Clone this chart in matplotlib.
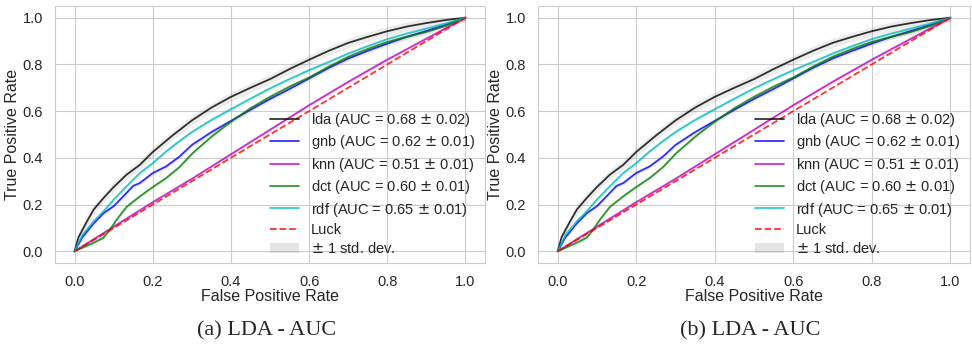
import numpy as np
import matplotlib.pyplot as plt
import seaborn as sns

sns.set_style("whitegrid")
plt.rcParams['font.family'] = ['Liberation Sans', 'DejaVu Sans']

# ROC curves (mean false positive rate -> mean true positive rate)
fpr_lda = [0.0, 0.01, 0.032, 0.049, 0.074, 0.10, 0.133, 0.167, 0.2, 0.25, 0.3, 0.35, 0.4, 0.45, 0.5, 0.55, 0.6, 0.65, 0.7, 0.75, 0.8, 0.85, 0.9, 0.95, 1.0]
tpr_lda = [0.0, 0.06, 0.129, 0.179, 0.228, 0.275, 0.328, 0.37, 0.425, 0.495, 0.56, 0.615, 0.661, 0.70, 0.737, 0.78, 0.82, 0.858, 0.892, 0.918, 0.942, 0.962, 0.977, 0.99, 1.0]

fpr_gnb = [0.0, 0.02, 0.049, 0.074, 0.10, 0.133, 0.15, 0.167, 0.2, 0.234, 0.268, 0.3, 0.35, 0.4, 0.45, 0.5, 0.55, 0.6, 0.65, 0.7, 0.75, 0.8, 0.85, 0.9, 0.95, 1.0]
tpr_gnb = [0.0, 0.06, 0.12, 0.163, 0.193, 0.25, 0.28, 0.292, 0.335, 0.363, 0.405, 0.455, 0.51, 0.558, 0.606, 0.652, 0.695, 0.74, 0.785, 0.825, 0.858, 0.889, 0.918, 0.943, 0.97, 1.0]

fpr_knn = [0.0, 0.1, 0.2, 0.3, 0.4, 0.5, 0.6, 0.7, 0.8, 0.9, 1.0]
tpr_knn = [0.0, 0.105, 0.21, 0.31, 0.415, 0.52, 0.625, 0.725, 0.82, 0.91, 1.0]

fpr_dct = [0.0, 0.049, 0.074, 0.091, 0.108, 0.133, 0.167, 0.2, 0.234, 0.268, 0.302, 0.35, 0.4, 0.45, 0.5, 0.55, 0.6, 0.65, 0.7, 0.75, 0.8, 0.85, 0.9, 0.95, 1.0]
tpr_dct = [0.0, 0.037, 0.058, 0.094, 0.136, 0.19, 0.235, 0.275, 0.313, 0.36, 0.42, 0.49, 0.555, 0.612, 0.661, 0.705, 0.744, 0.79, 0.832, 0.866, 0.896, 0.918, 0.939, 0.965, 1.0]

fpr_rdf = [0.0, 0.02, 0.049, 0.074, 0.10, 0.133, 0.167, 0.2, 0.234, 0.267, 0.3, 0.35, 0.4, 0.45, 0.5, 0.55, 0.6, 0.65, 0.7, 0.75, 0.8, 0.85, 0.9, 0.95, 1.0]
tpr_rdf = [0.0, 0.07, 0.129, 0.171, 0.221, 0.278, 0.335, 0.377, 0.427, 0.47, 0.51, 0.562, 0.608, 0.653, 0.697, 0.737, 0.775, 0.81, 0.846, 0.878, 0.908, 0.932, 0.953, 0.975, 1.0]

models = ["lda", "gnb", "knn", "dct", "rdf"]
auc_mean = [0.68, 0.62, 0.51, 0.60, 0.65]
auc_std = [0.02, 0.01, 0.01, 0.01, 0.01]
colors = ["k", "b", "m", "g", "c"]
fprs = [fpr_lda, fpr_gnb, fpr_knn, fpr_dct, fpr_rdf]
tprs = [tpr_lda, tpr_gnb, tpr_knn, tpr_dct, tpr_rdf]

captions = ["(a) LDA - AUC", "(b) LDA - AUC"]

fig = plt.figure(figsize=(9.72, 3.46), dpi=100)
ax1 = fig.add_axes([0.0566, 0.2399, 0.4424, 0.7428])
ax2 = fig.add_axes([0.5535, 0.2399, 0.4444, 0.7428])

for ax, cap in zip([ax1, ax2], captions):
    lines = []
    for name, m, s, c, fx, ty in zip(models, auc_mean, auc_std, colors, fprs, tprs):
        fx = np.array(fx)
        ty = np.array(ty)
        ax.fill_between(fx, np.clip(ty - s, 0, 1), np.clip(ty + s, 0, 1), color="grey", alpha=0.15, lw=0)
        l, = ax.plot(fx, ty, color=c, lw=1.3, alpha=0.8,
                     label="%s (AUC = %0.2f $\\pm$ %0.2f)" % (name, m, s))
        lines.append(l)
    luck, = ax.plot([0, 1], [0, 1], "--", color="r", lw=1.3, alpha=0.8, label="Luck")
    band = plt.Rectangle((0, 0), 1, 1, color="grey", alpha=0.2, lw=0)
    ax.legend(lines + [luck, band], [l.get_label() for l in lines] + ["Luck", "$\\pm$ 1 std. dev."],
              loc="lower right", bbox_to_anchor=(1.007, -0.025), frameon=False, fontsize=10.5,
              labelspacing=0.3, handlelength=2.0, handletextpad=0.8)
    ax.set_xlim(-0.05, 1.05)
    ax.set_ylim(-0.05, 1.05)
    ax.set_xlabel("False Positive Rate", fontsize=11.5, labelpad=0)
    ax.set_ylabel("True Positive Rate", fontsize=11.5, labelpad=2)
    ax.tick_params(labelsize=10.5, pad=5)
    pos = ax.get_position()
    fig.text(pos.x0 + pos.width / 2 - 0.004, 0.045, cap, ha="center", va="center",
             fontsize=16, family="Liberation Serif")

fig.savefig("out.png", dpi=100)
